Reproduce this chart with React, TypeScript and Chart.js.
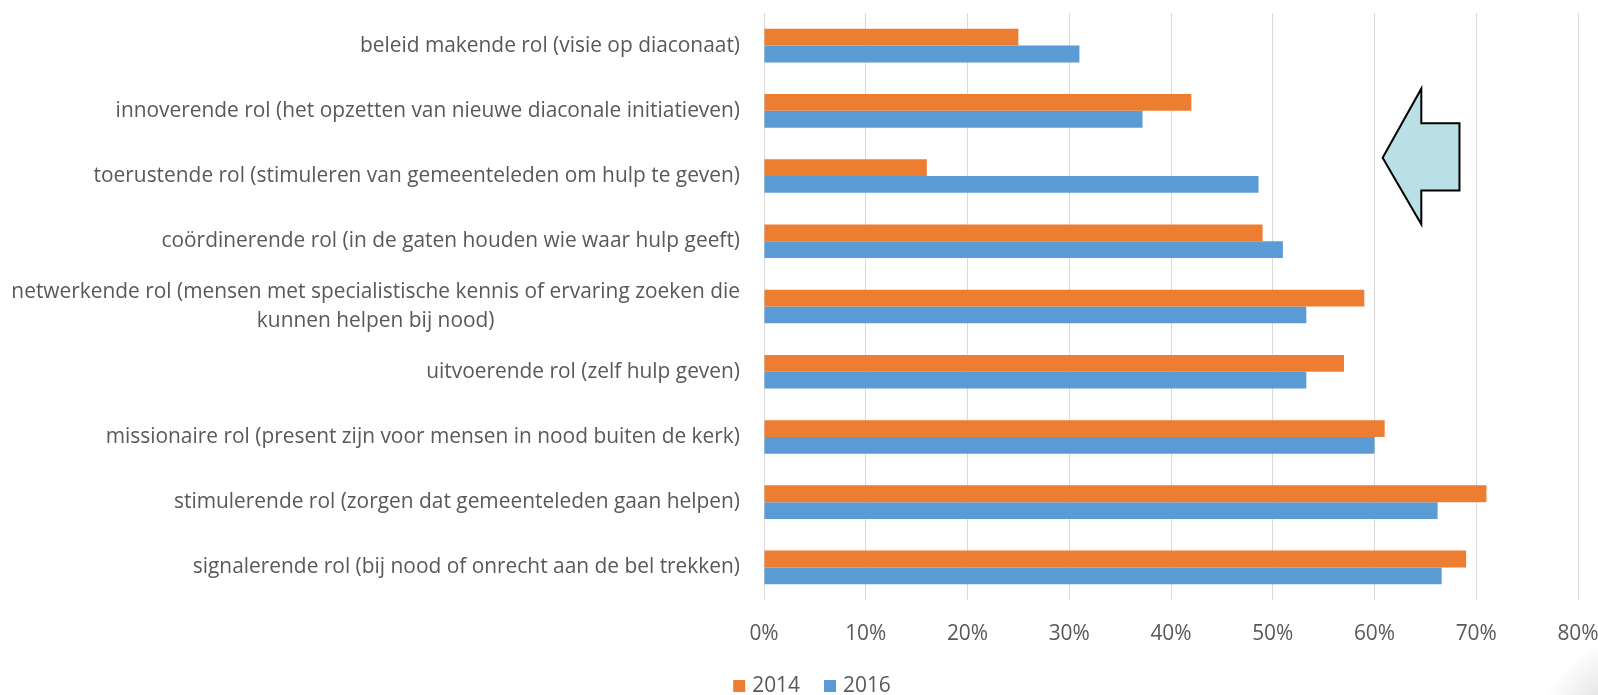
import React, { useEffect, useRef } from "react";
import { Chart, registerables } from "chart.js";

Chart.register(...registerables);

const categories: (string | string[])[] = [
  "beleid makende rol (visie op diaconaat)",
  "innoverende rol (het opzetten van nieuwe diaconale initiatieven)",
  "toerustende rol (stimuleren van gemeenteleden om hulp te geven)",
  "coördinerende rol (in de gaten houden wie waar hulp geeft)",
  [
    "netwerkende rol (mensen met specialistische kennis of ervaring zoeken die",
    "kunnen helpen bij nood)",
  ],
  "uitvoerende rol (zelf hulp geven)",
  "missionaire rol (present zijn voor mensen in nood buiten de kerk)",
  "stimulerende rol (zorgen dat gemeenteleden gaan helpen)",
  "signalerende rol (bij nood of onrecht aan de bel trekken)",
];

const values2014 = [0.25, 0.42, 0.16, 0.49, 0.59, 0.57, 0.61, 0.71, 0.69];
const values2016 = [0.31, 0.372, 0.486, 0.51, 0.533, 0.533, 0.6, 0.662, 0.666];

const seriesLabels = ["2014", "2016"];
const seriesColors = ["#ED7D31", "#5B9BD5"];

const FONT_FAMILY = "'Open Sans', sans-serif";
const FONT_SIZE = 20.9;
const TEXT_COLOR = "#595959";

// arrow annotation in data units (x: fraction, y: category index)
const arrowX = { tip: 0.608, head: 0.646, tail: 0.6835 };
const arrowY = { tip: 1.72, headTop: 0.66, headBottom: 2.74, shaftTop: 1.19, shaftBottom: 2.22 };

const labelsPlugin = {
  id: "customYLabels",
  afterDraw(chart: any) {
    const ctx = chart.ctx;
    const yScale = chart.scales.y;
    const right = chart.chartArea.left - 24;
    const lh = 28.5;
    ctx.save();
    ctx.font = `${FONT_SIZE}px ${FONT_FAMILY}`;
    ctx.fillStyle = TEXT_COLOR;
    ctx.textBaseline = "middle";
    categories.forEach((lab, i) => {
      const lines = Array.isArray(lab) ? lab : [lab];
      const cy = yScale.getPixelForValue(i);
      const y0 = cy - ((lines.length - 1) * lh) / 2;
      if (lines.length === 1) {
        ctx.textAlign = "right";
        ctx.fillText(lines[0], right, y0);
      } else {
        const maxW = Math.max(...lines.map((l) => ctx.measureText(l).width));
        ctx.textAlign = "center";
        lines.forEach((l, k) => ctx.fillText(l, right - maxW / 2, y0 + k * lh));
      }
    });
    ctx.restore();
  },
};

const arrowPlugin = {
  id: "arrowShape",
  afterDatasetsDraw(chart: any) {
    const ctx = chart.ctx;
    const xs = chart.scales.x;
    const ys = chart.scales.y;
    const px = (v: number) => xs.getPixelForValue(v);
    const py = (v: number) => ys.getPixelForValue(v);
    ctx.save();
    ctx.beginPath();
    ctx.moveTo(px(arrowX.tip), py(arrowY.tip));
    ctx.lineTo(px(arrowX.head), py(arrowY.headTop));
    ctx.lineTo(px(arrowX.head), py(arrowY.shaftTop));
    ctx.lineTo(px(arrowX.tail), py(arrowY.shaftTop));
    ctx.lineTo(px(arrowX.tail), py(arrowY.shaftBottom));
    ctx.lineTo(px(arrowX.head), py(arrowY.shaftBottom));
    ctx.lineTo(px(arrowX.head), py(arrowY.headBottom));
    ctx.closePath();
    ctx.fillStyle = "#B9E0E4";
    ctx.fill();
    ctx.lineWidth = 2;
    ctx.strokeStyle = "#000000";
    ctx.lineJoin = "miter";
    ctx.stroke();
    ctx.restore();
  },
};

const legendPlugin = {
  id: "customLegend",
  afterDraw(chart: any) {
    const ctx = chart.ctx;
    ctx.save();
    ctx.font = `${FONT_SIZE}px ${FONT_FAMILY}`;
    ctx.textBaseline = "middle";
    ctx.textAlign = "left";
    const box = 12;
    const gapBoxText = 7;
    const gapItems = 24;
    const widths = seriesLabels.map((l) => box + gapBoxText + ctx.measureText(l).width);
    const total = widths.reduce((a, b) => a + b, 0) + gapItems * (seriesLabels.length - 1);
    let x = 812 - total / 2;
    const cy = 686;
    seriesLabels.forEach((l, i) => {
      ctx.fillStyle = seriesColors[i];
      ctx.fillRect(x, cy - box / 2, box, box);
      ctx.fillStyle = TEXT_COLOR;
      ctx.fillText(l, x + box + gapBoxText, cy);
      x += widths[i] + gapItems;
    });
    ctx.restore();
  },
};

const cornerShadowPlugin = {
  id: "cornerShadow",
  afterDraw(chart: any) {
    const ctx = chart.ctx;
    const w = chart.width;
    const h = chart.height;
    ctx.save();
    const g = ctx.createRadialGradient(w + 40, h + 40, 20, w + 40, h + 40, 100);
    g.addColorStop(0, "rgba(0,0,0,0.22)");
    g.addColorStop(0.55, "rgba(0,0,0,0.08)");
    g.addColorStop(1, "rgba(0,0,0,0)");
    ctx.fillStyle = g;
    ctx.fillRect(w - 80, h - 70, 80, 70);
    ctx.restore();
  },
};

export default function App() {
  const ref = useRef<HTMLCanvasElement | null>(null);
  useEffect(() => {
    document.body.style.margin = "0";
    document.body.style.background = "#ffffff";
    const canvas = ref.current!;
    const chart = new Chart(canvas, {
      type: "bar",
      data: {
        labels: categories.map((c) => (Array.isArray(c) ? c.join(" ") : c)),
        datasets: [
          {
            label: seriesLabels[0],
            data: values2014,
            backgroundColor: seriesColors[0],
            categoryPercentage: 0.515,
            barPercentage: 1,
          },
          {
            label: seriesLabels[1],
            data: values2016,
            backgroundColor: seriesColors[1],
            categoryPercentage: 0.515,
            barPercentage: 1,
          },
        ],
      },
      options: {
        indexAxis: "y",
        responsive: false,
        animation: false,
        layout: { padding: { top: 13, right: 20, left: 0, bottom: 0 } },
        plugins: {
          legend: { display: false },
          tooltip: { enabled: false },
        },
        scales: {
          x: {
            min: 0,
            max: 0.8,
            ticks: {
              stepSize: 0.1,
              padding: 22,
              color: TEXT_COLOR,
              font: { family: FONT_FAMILY, size: FONT_SIZE },
              callback: (v: any) => `${Math.round(Number(v) * 100)}%`,
              maxRotation: 0,
            },
            grid: { color: "#D9D9D9", lineWidth: 1, drawTicks: false },
            border: { display: false },
            afterFit: (s: any) => {
              s.height = 95;
              s.paddingLeft = 0;
              s.paddingRight = 0;
            },
          },
          y: {
            ticks: { display: false },
            grid: { display: false },
            border: { display: false },
            afterFit: (s: any) => {
              s.width = 764;
            },
          },
        },
      },
      plugins: [labelsPlugin, arrowPlugin, legendPlugin, cornerShadowPlugin],
    } as any);
    return () => chart.destroy();
  }, []);
  return <canvas ref={ref} width={1598} height={695} style={{ display: "block" }} />;
}
